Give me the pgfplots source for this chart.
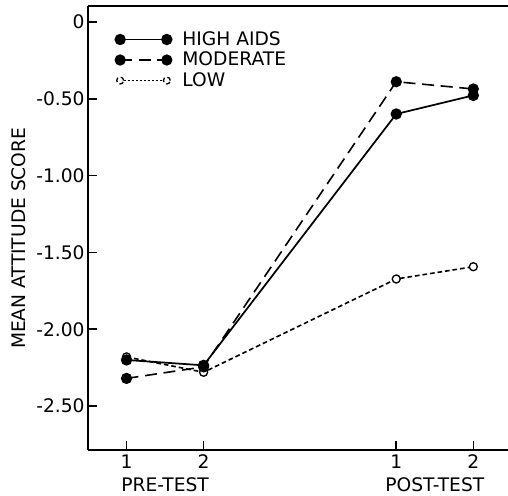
\documentclass[border=0pt]{standalone}
\usepackage{pgfplots}
\pgfplotsset{compat=1.18}
\usepackage{fontspec}
\setmainfont{DejaVu Sans}
\newcommand{\lbl}{\fontsize{14}{16}\selectfont}
\begin{document}
\begin{tikzpicture}[x=1pt,y=1pt]
\useasboundingbox (-66,-34.5) rectangle (315,337.5);
\begin{axis}[at={(0,0)}, anchor=south west, scale only axis,
  width=315pt, height=333pt,
  xmin=0.5, xmax=5.95, ymin=-2.786, ymax=0.104,
  axis x line=box, axis y line=left,
  axis line style={-, line width=1.6pt},
  xtick pos=left,
  xtick={1,2,4.5,5.5}, xticklabels={1,2,1,2},
  ytick={0,-0.5,-1,-1.5,-2,-2.5},
  yticklabels={0,-0.50,-1.00,-1.50,-2.00,-2.50},
  tick align=inside, major tick length=7pt,
  tick style={line width=1.2pt, black},
  ticklabel style={font=\lbl},
  yticklabel style={xshift=1pt},
  reverse legend,
  legend style={at={(0.055,0.955)}, anchor=north west, draw=none, fill=none,
    font=\lbl, row sep=-0.5pt, cells={anchor=west}},
  legend image code/.code={\draw[mark repeat=2,mark phase=1,#1] plot coordinates {(0pt,0pt) (17.5pt,0pt) (35pt,0pt)}; \path (44pt,0pt);},
  clip=false,
]
\addplot[black, line width=1.2pt, dash pattern=on 3.5pt off 2.2pt, mark=*, mark size=3pt,
  mark options={solid, fill=white, line width=1pt},
  legend image code/.code={\draw[black, line width=1.2pt, dash pattern=on 1.5pt off 1.5pt] (2.6pt,0pt) -- (32.4pt,0pt);
  \draw[black, fill=white, line width=1pt] (0pt,0pt) circle (2.6pt);
  \draw[black, fill=white, line width=1pt] (35pt,0pt) circle (2.6pt); \path (44pt,0pt);}]
  coordinates {(1,-2.18) (2,-2.28) (4.5,-1.673) (5.5,-1.593)};
\addlegendentry{LOW}
\addplot[black, line width=1.2pt, dash pattern=on 9pt off 5pt, mark=*, mark size=3.6pt,
  mark options={solid, fill=black}]
  coordinates {(1,-2.32) (2,-2.245) (4.5,-0.389) (5.5,-0.436)};
\addlegendentry{MODERATE}
\addplot[black, line width=1.3pt, mark=*, mark size=3.6pt, mark options={solid, fill=black}]
  coordinates {(1,-2.20) (2,-2.235) (4.5,-0.599) (5.5,-0.478)};
\addlegendentry{HIGH AIDS}
\node[font=\lbl, anchor=base] at (axis cs:1.5,-2.786) [yshift=-31pt] {PRE-TEST};
\node[font=\lbl, anchor=base] at (axis cs:5,-2.786) [yshift=-31pt] {POST-TEST};
\end{axis}
\node[font=\lbl, rotate=90] at (-51.75,158.8) {MEAN ATTITUDE SCORE};
\end{tikzpicture}
\end{document}
